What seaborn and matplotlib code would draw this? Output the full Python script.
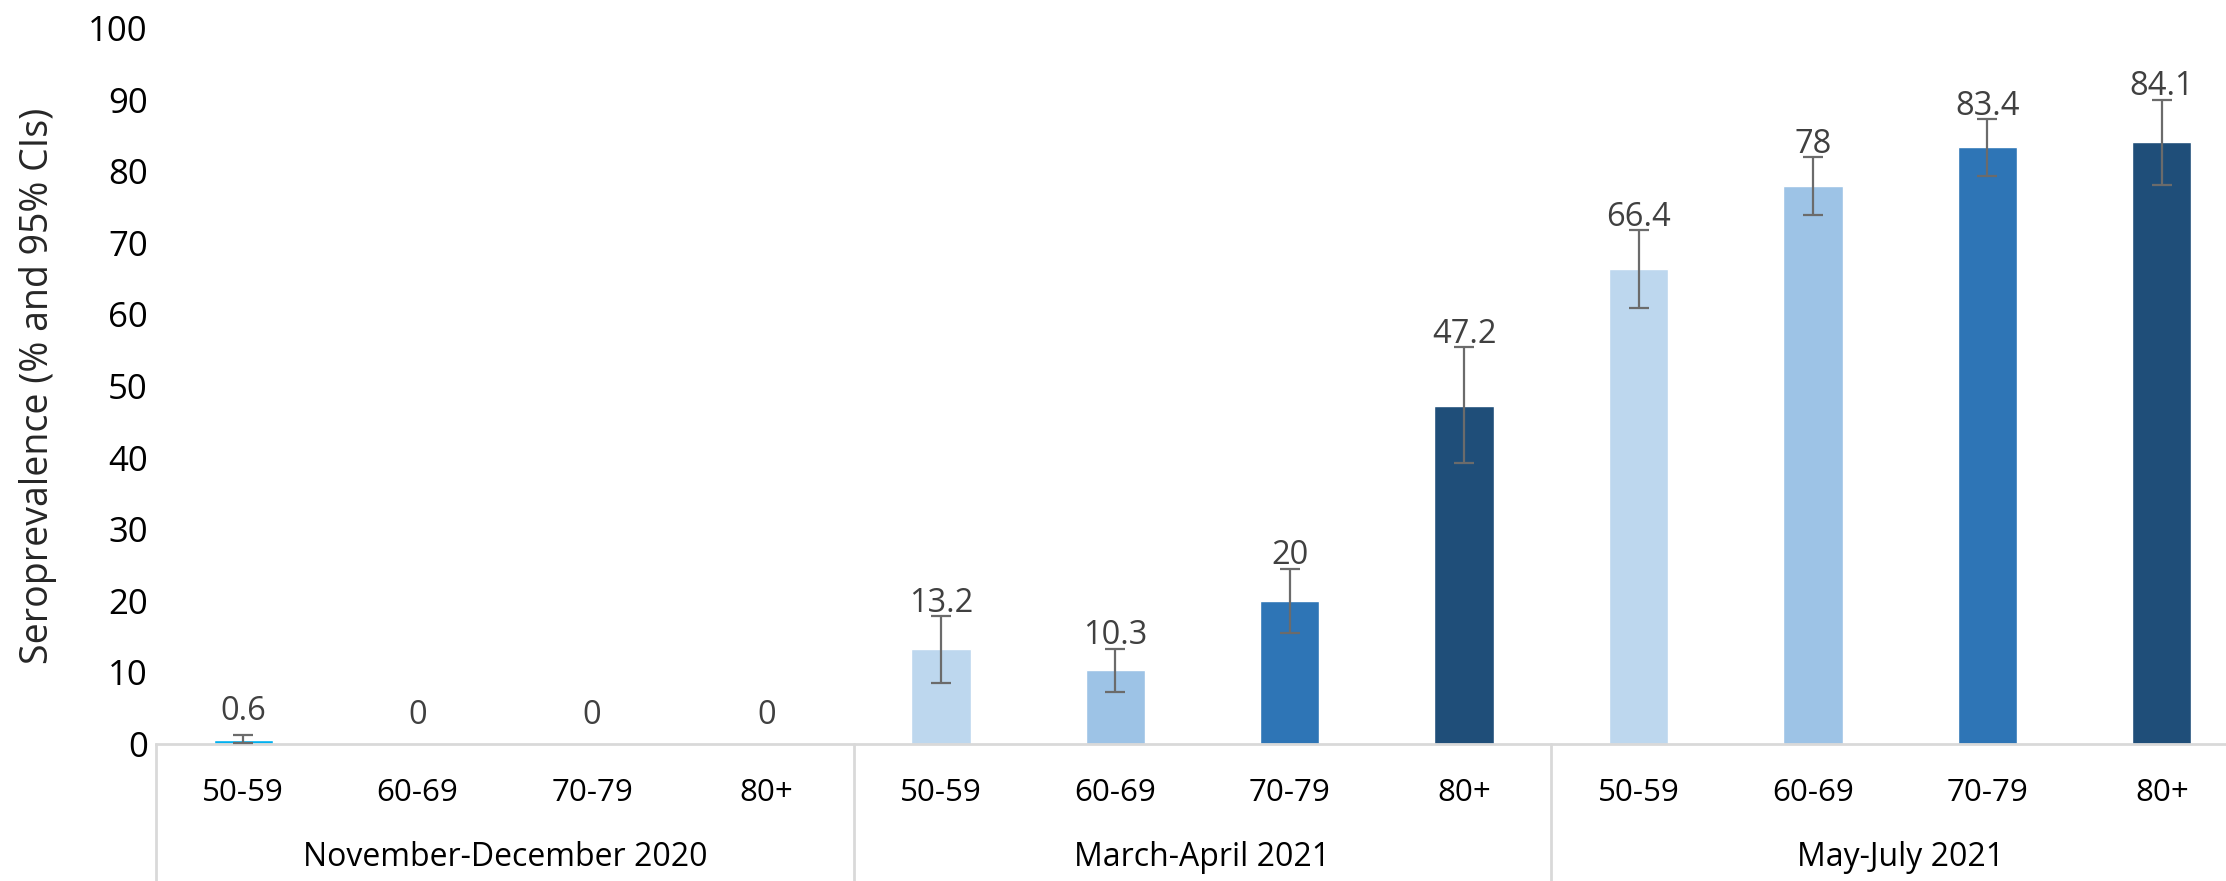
import matplotlib
matplotlib.use("Agg")
import matplotlib.pyplot as plt
import matplotlib.transforms as mtransforms
import numpy as np
import pandas as pd
import seaborn as sns

# data
WAVES = ["November-December 2020", "March-April 2021", "May-July 2021"]
AGES = ["50-59", "60-69", "70-79", "80+"]
VALUES = [0.6, 0, 0, 0, 13.2, 10.3, 20, 47.2, 66.4, 78, 83.4, 84.1]
CI_LOW = [0.2, np.nan, np.nan, np.nan, 8.5, 7.3, 15.5, 39.2, 60.9, 73.9, 79.3, 78.1]
CI_HIGH = [1.3, np.nan, np.nan, np.nan, 17.9, 13.3, 24.5, 55.4, 71.8, 82.0, 87.3, 90.0]
BAR_COLORS = ["#00B0F0", "#00B0F0", "#00B0F0", "#00B0F0",
              "#BDD7EE", "#9DC3E6", "#2E75B6", "#1F4E79",
              "#BDD7EE", "#9DC3E6", "#2E75B6", "#1F4E79"]

sns.set_theme(style="white")
plt.rcParams["font.family"] = ["Open Sans", "DejaVu Sans"]

df = pd.DataFrame({
    "wave": np.repeat(WAVES, len(AGES)),
    "age": AGES * len(WAVES),
    "value": VALUES,
    "lo": CI_LOW,
    "hi": CI_HIGH,
})
df["slot"] = [f"{w}|{a}" for w, a in zip(df["wave"], df["age"])]

W, H = 2226, 881
fig = plt.figure(figsize=(W / 100, H / 100), dpi=100)
x0, x1 = 156, 2249
y0, y1 = 744, 28
ax = fig.add_axes([x0 / W, (H - y0) / H, (x1 - x0) / W, (y0 - y1) / H])

sns.barplot(data=df, x="slot", y="value", hue="slot", palette=BAR_COLORS,
            order=list(df["slot"]), width=0.34, legend=False, ax=ax,
            errorbar=None, saturation=1)

pos = np.arange(len(df))
has_ci = ~df["lo"].isna()
ax.errorbar(pos[has_ci], df["value"][has_ci],
            yerr=[df["value"][has_ci] - df["lo"][has_ci],
                  df["hi"][has_ci] - df["value"][has_ci]],
            fmt="none", ecolor="#6b6b6b", elinewidth=1.6, capsize=7,
            capthick=1.6, zorder=4)

label_y = np.fmax(df["hi"].to_numpy() + 0.6, df["value"].to_numpy() + 2.8)
for p, v, ly in zip(pos, df["value"], label_y):
    ax.text(p, ly, f"{v:g}", ha="center", va="baseline", fontsize=23.5,
            color="#404040")

ax.set_xlim(-0.5, len(df) - 0.5)
ax.set_ylim(0, 100)
ax.set_yticks(range(0, 101, 10))
ax.tick_params(axis="y", labelsize=25, labelcolor="black", length=0, pad=6)
ax.set_xticks([])
ax.set_xlabel("")
ax.set_ylabel("Seroprevalence (% and 95% CIs)", fontsize=27, labelpad=22)
for s in ["left", "right", "top"]:
    ax.spines[s].set_visible(False)
ax.spines["bottom"].set_color("#d9d9d9")
ax.spines["bottom"].set_linewidth(2)

# category table below the axis
trans = mtransforms.blended_transform_factory(ax.transData, fig.transFigure)
y_axis = (H - y0) / H
for xb in [-0.5, 3.5, 7.5, 11.5]:
    ax.plot([xb, xb], [y_axis, 0], transform=trans, color="#d9d9d9",
            lw=2, clip_on=False)
for p, age in zip(pos, df["age"]):
    ax.text(p, (H - 793) / H, age, transform=trans, ha="center",
            va="center", fontsize=22.5, color="black")
for i, wave in enumerate(WAVES):
    ax.text(i * 4 + 1.5, (H - 858) / H, wave, transform=trans, ha="center",
            va="center", fontsize=23, color="black")

fig.savefig("out.png", dpi=100)
